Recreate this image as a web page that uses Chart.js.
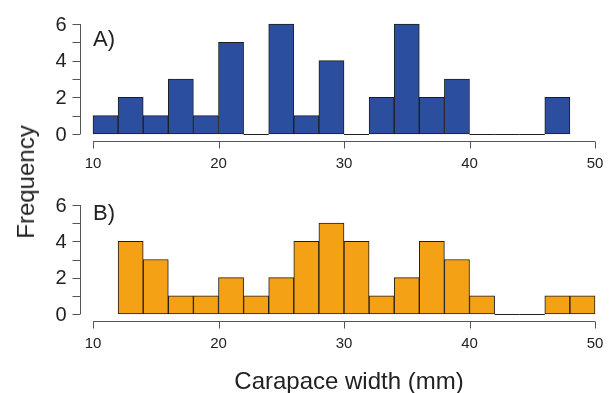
<!DOCTYPE html>
<html>
<head>
<meta charset="utf-8">
<script src="https://cdn.jsdelivr.net/npm/chart.js@4.4.0/dist/chart.umd.min.js"></script>
<style>
  body { margin: 0; background: #fff; }
  #wrap { position: relative; width: 616px; height: 393px; font-family: "Liberation Sans", Arial, sans-serif; color: #222; }
  canvas { position: absolute; left: 0; }
  #chartA { top: 0; }
  #chartB { top: 180px; }
  .ylab { position: absolute; left: 26px; top: 182px; transform: translate(-50%, -50%) rotate(-90deg); font-size: 24px; white-space: nowrap; }
  .xlab { position: absolute; left: 349px; top: 381px; transform: translate(-50%, -50%); font-size: 24px; white-space: nowrap; }
</style>
</head>
<body>
<div id="wrap">
  <canvas id="chartA" width="616" height="180"></canvas>
  <canvas id="chartB" width="616" height="213"></canvas>
  <div class="ylab">Frequency</div>
  <div class="xlab">Carapace width (mm)</div>
</div>
<script>
// 2 mm bins, given by their midpoints
const binsA = [11, 13, 15, 17, 19, 21, 23, 25, 27, 29, 31, 33, 35, 37, 39, 41, 43, 45, 47];
const countsA = [1, 2, 1, 3, 1, 5, 0, 6, 1, 4, 0, 2, 6, 2, 3, 0, 0, 0, 2];

const binsB = [13, 15, 17, 19, 21, 23, 25, 27, 29, 31, 33, 35, 37, 39, 41, 43, 45, 47, 49];
const countsB = [4, 3, 1, 1, 2, 1, 2, 4, 5, 4, 1, 2, 4, 3, 1, 0, 0, 1, 1];

const xTicks = [10, 20, 30, 40, 50];
const yTicks = [0, 1, 2, 3, 4, 5, 6];
const yLabels = [0, 2, 4, 6];

// R style axes, drawn a bit away from the plot region
const rAxes = {
    id: 'rAxes',
    beforeDatasetsDraw(chart, args, opts) {
        // empty bins show as a flat line on the baseline
        const x = chart.scales.x, y = chart.scales.y, ctx = chart.ctx;
        const y0 = Math.round(y.getPixelForValue(0)) + 0.5;
        ctx.save();
        ctx.strokeStyle = '#222';
        ctx.lineWidth = 1;
        opts.bins.forEach((b, i) => {
            if (opts.counts[i] !== 0) return;
            ctx.beginPath();
            ctx.moveTo(x.getPixelForValue(b - 1), y0);
            ctx.lineTo(x.getPixelForValue(b + 1), y0);
            ctx.stroke();
        });
        ctx.restore();
    },
    afterDraw(chart, args, opts) {
        const x = chart.scales.x, y = chart.scales.y, ctx = chart.ctx;
        const area = chart.chartArea;
        const ax = Math.round(area.left - 13) + 0.5;
        const ay = Math.round(area.bottom + 7) + 0.5;
        ctx.save();
        ctx.strokeStyle = '#555';
        ctx.lineWidth = 1;
        ctx.fillStyle = '#222';

        // y axis
        ctx.beginPath();
        ctx.moveTo(ax, y.getPixelForValue(yTicks[0]));
        ctx.lineTo(ax, y.getPixelForValue(yTicks[yTicks.length - 1]));
        yTicks.forEach(v => {
            const py = Math.round(y.getPixelForValue(v)) + 0.5;
            ctx.moveTo(ax, py);
            ctx.lineTo(ax - 8, py);
        });
        ctx.stroke();
        ctx.font = '20px "Liberation Sans", Arial, sans-serif';
        ctx.textAlign = 'right';
        ctx.textBaseline = 'middle';
        yLabels.forEach(v => ctx.fillText(String(v), ax - 14, y.getPixelForValue(v) + 1));

        // x axis
        ctx.beginPath();
        ctx.moveTo(x.getPixelForValue(xTicks[0]), ay);
        ctx.lineTo(x.getPixelForValue(xTicks[xTicks.length - 1]), ay);
        xTicks.forEach(v => {
            const px = Math.round(x.getPixelForValue(v)) + 0.5;
            ctx.moveTo(px, ay);
            ctx.lineTo(px, ay + 7);
        });
        ctx.stroke();
        ctx.font = '15px "Liberation Sans", Arial, sans-serif';
        ctx.textAlign = 'center';
        xTicks.forEach(v => ctx.fillText(String(v), x.getPixelForValue(v), ay + 22));

        // panel letter
        ctx.font = '22px "Liberation Sans", Arial, sans-serif';
        ctx.textAlign = 'left';
        ctx.fillText(opts.label, area.left, area.top + opts.labelDy);
        ctx.restore();
    }
};

function makeHist(id, bins, counts, color, label, pad, labelDy) {
    const ctx = document.getElementById(id).getContext('2d');
    return new Chart(ctx, {
        type: 'bar',
        data: {
            datasets: [{
                data: bins.map((b, i) => ({ x: b, y: counts[i] })),
                backgroundColor: color,
                borderColor: '#1e1e1e',
                borderWidth: 1,
                borderSkipped: false,
                barPercentage: 1,
                categoryPercentage: 1,
                clip: false
            }]
        },
        options: {
            responsive: false,
            animation: false,
            layout: { padding: pad },
            scales: {
                x: { type: 'linear', min: 10, max: 50, offset: false, display: false, ticks: { stepSize: 2 } },
                y: { min: 0, max: 6, display: false }
            },
            plugins: {
                legend: { display: false },
                tooltip: { enabled: false },
                rAxes: { bins: bins, counts: counts, label: label, labelDy: labelDy }
            }
        },
        plugins: [rAxes]
    });
}

makeHist('chartA', binsA, countsA, '#2b4f9e', 'A)', { left: 93, right: 21, top: 24, bottom: 46 }, 16);
makeHist('chartB', binsB, countsB, '#f4a115', 'B)', { left: 93, right: 21, top: 25, bottom: 79 }, 9);
</script>
</body>
</html>
